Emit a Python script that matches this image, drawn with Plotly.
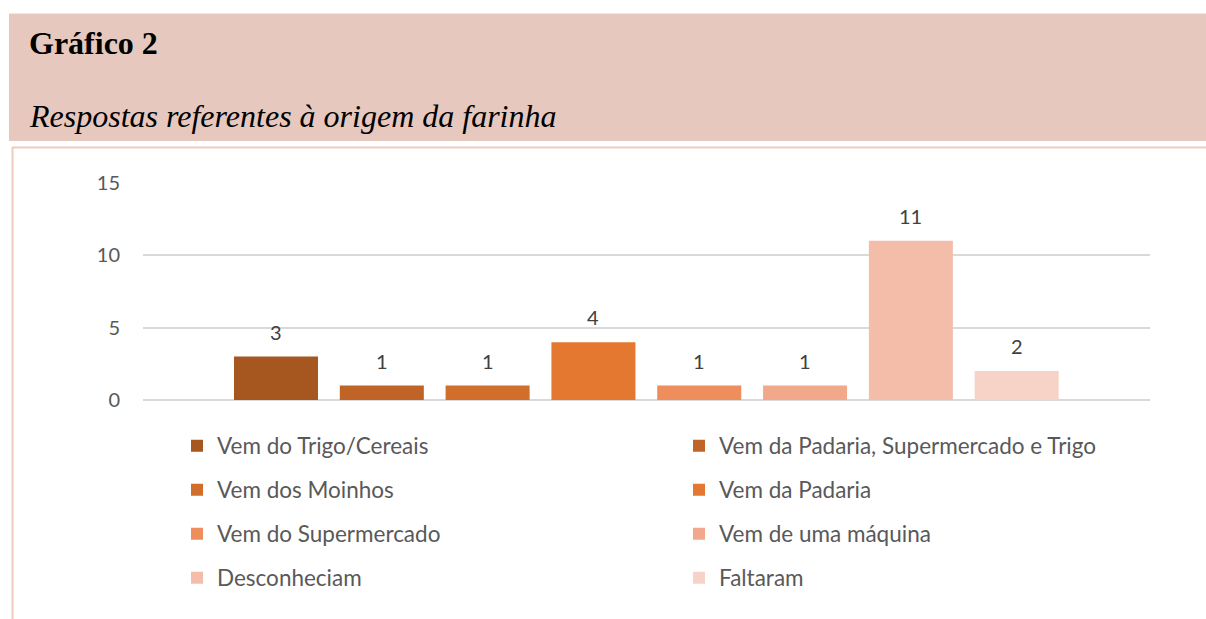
import plotly.graph_objects as go

categories = [
    "Vem do Trigo/Cereais",
    "Vem da Padaria, Supermercado e Trigo",
    "Vem dos Moinhos",
    "Vem da Padaria",
    "Vem do Supermercado",
    "Vem de uma máquina",
    "Desconheciam",
    "Faltaram",
]
values = [3, 1, 1, 4, 1, 1, 11, 2]
colors = ["#A6561F", "#C06326", "#D26E2B", "#E47830", "#EE8E5C", "#F2A88A", "#F3BDAA", "#F6D3C6"]
y_ticks = [0, 5, 10, 15]

title_text = "Gráfico 2"
subtitle_text = "Respostas referentes à origem da farinha"

W, H = 1206, 619
L, R, T, B = 143, 1150, 183, 400


def px(x):
    return (x - L) / (R - L)


def py(y):
    return (B - y) / (B - T)


fig = go.Figure()
legend_ids = ["legend"] + ["legend%d" % k for k in range(2, 9)]
for i, (c, v, col) in enumerate(zip(categories, values, colors)):
    fig.add_trace(go.Bar(
        x=[c], y=[v], name=c, marker=dict(color=col, line=dict(width=0)),
        width=0.794, legend=legend_ids[i], hoverinfo="skip",
    ))
    fig.add_annotation(x=c, y=v, text=str(v), showarrow=False, yshift=25,
                       yanchor="middle", font=dict(family="Lato", size=20, color="#404040"))

rows_y = [446, 490, 534, 578]
cols_x = [177, 679]
legend_common = dict(orientation="v", xanchor="left", yanchor="middle",
                     bgcolor="rgba(0,0,0,0)", borderwidth=0,
                     font=dict(family="Lato", size=22.5, color="#595959"))
layout_legends = {}
for i, lid in enumerate(legend_ids):
    layout_legends[lid] = dict(x=px(cols_x[i % 2]), y=py(rows_y[i // 2]), **legend_common)

shapes = [
    dict(type="rect", xref="paper", yref="paper", x0=px(9), x1=px(1206), y0=py(141), y1=py(14),
         fillcolor="#E6C8BE", line=dict(width=0), layer="below"),
    dict(type="line", xref="paper", yref="paper", x0=px(9), x1=px(1206), y0=py(13.5), y1=py(13.5),
         line=dict(color="#F6E4DE", width=1)),
    dict(type="line", xref="paper", yref="paper", x0=px(12), x1=px(1206), y0=py(147.5), y1=py(147.5),
         line=dict(color="#EECBBF", width=2)),
    dict(type="line", xref="paper", yref="paper", x0=px(12.5), x1=px(12.5), y0=py(147), y1=py(619),
         line=dict(color="#EECBBF", width=2)),
]

annotations = [
    dict(xref="paper", yref="paper", x=px(27), y=py(43), xanchor="left", yanchor="middle",
         text="<b>" + title_text + "</b>", showarrow=False,
         font=dict(family="Liberation Serif", size=32, color="#000000")),
    dict(xref="paper", yref="paper", x=px(27), y=py(116), xanchor="left", yanchor="middle",
         text="<i>" + subtitle_text + "</i>", showarrow=False,
         font=dict(family="Liberation Serif", size=32, color="#000000")),
]
for a in annotations:
    fig.add_annotation(**a)

fig.update_layout(
    width=W, height=H, autosize=False,
    margin=dict(l=L, r=W - R, t=T, b=H - B, pad=0),
    paper_bgcolor="white", plot_bgcolor="white",
    barmode="overlay",
    shapes=shapes,
    showlegend=True,
    **layout_legends,
    xaxis=dict(type="category", categoryorder="array", categoryarray=categories,
               range=[-1.257, 8.26], showticklabels=False, showgrid=False,
               zeroline=False, showline=False, ticks=""),
    yaxis=dict(range=[0, 15], tickvals=y_ticks, showgrid=True, gridcolor="#D9D9D9",
               gridwidth=1.5, zeroline=True, zerolinecolor="#D9D9D9", zerolinewidth=1.5,
               showline=False, ticks="", ticklabelstandoff=22,
               tickfont=dict(family="Lato", size=20, color="#595959")),
)

fig.write_html("out.html", config={"displayModeBar": False})
